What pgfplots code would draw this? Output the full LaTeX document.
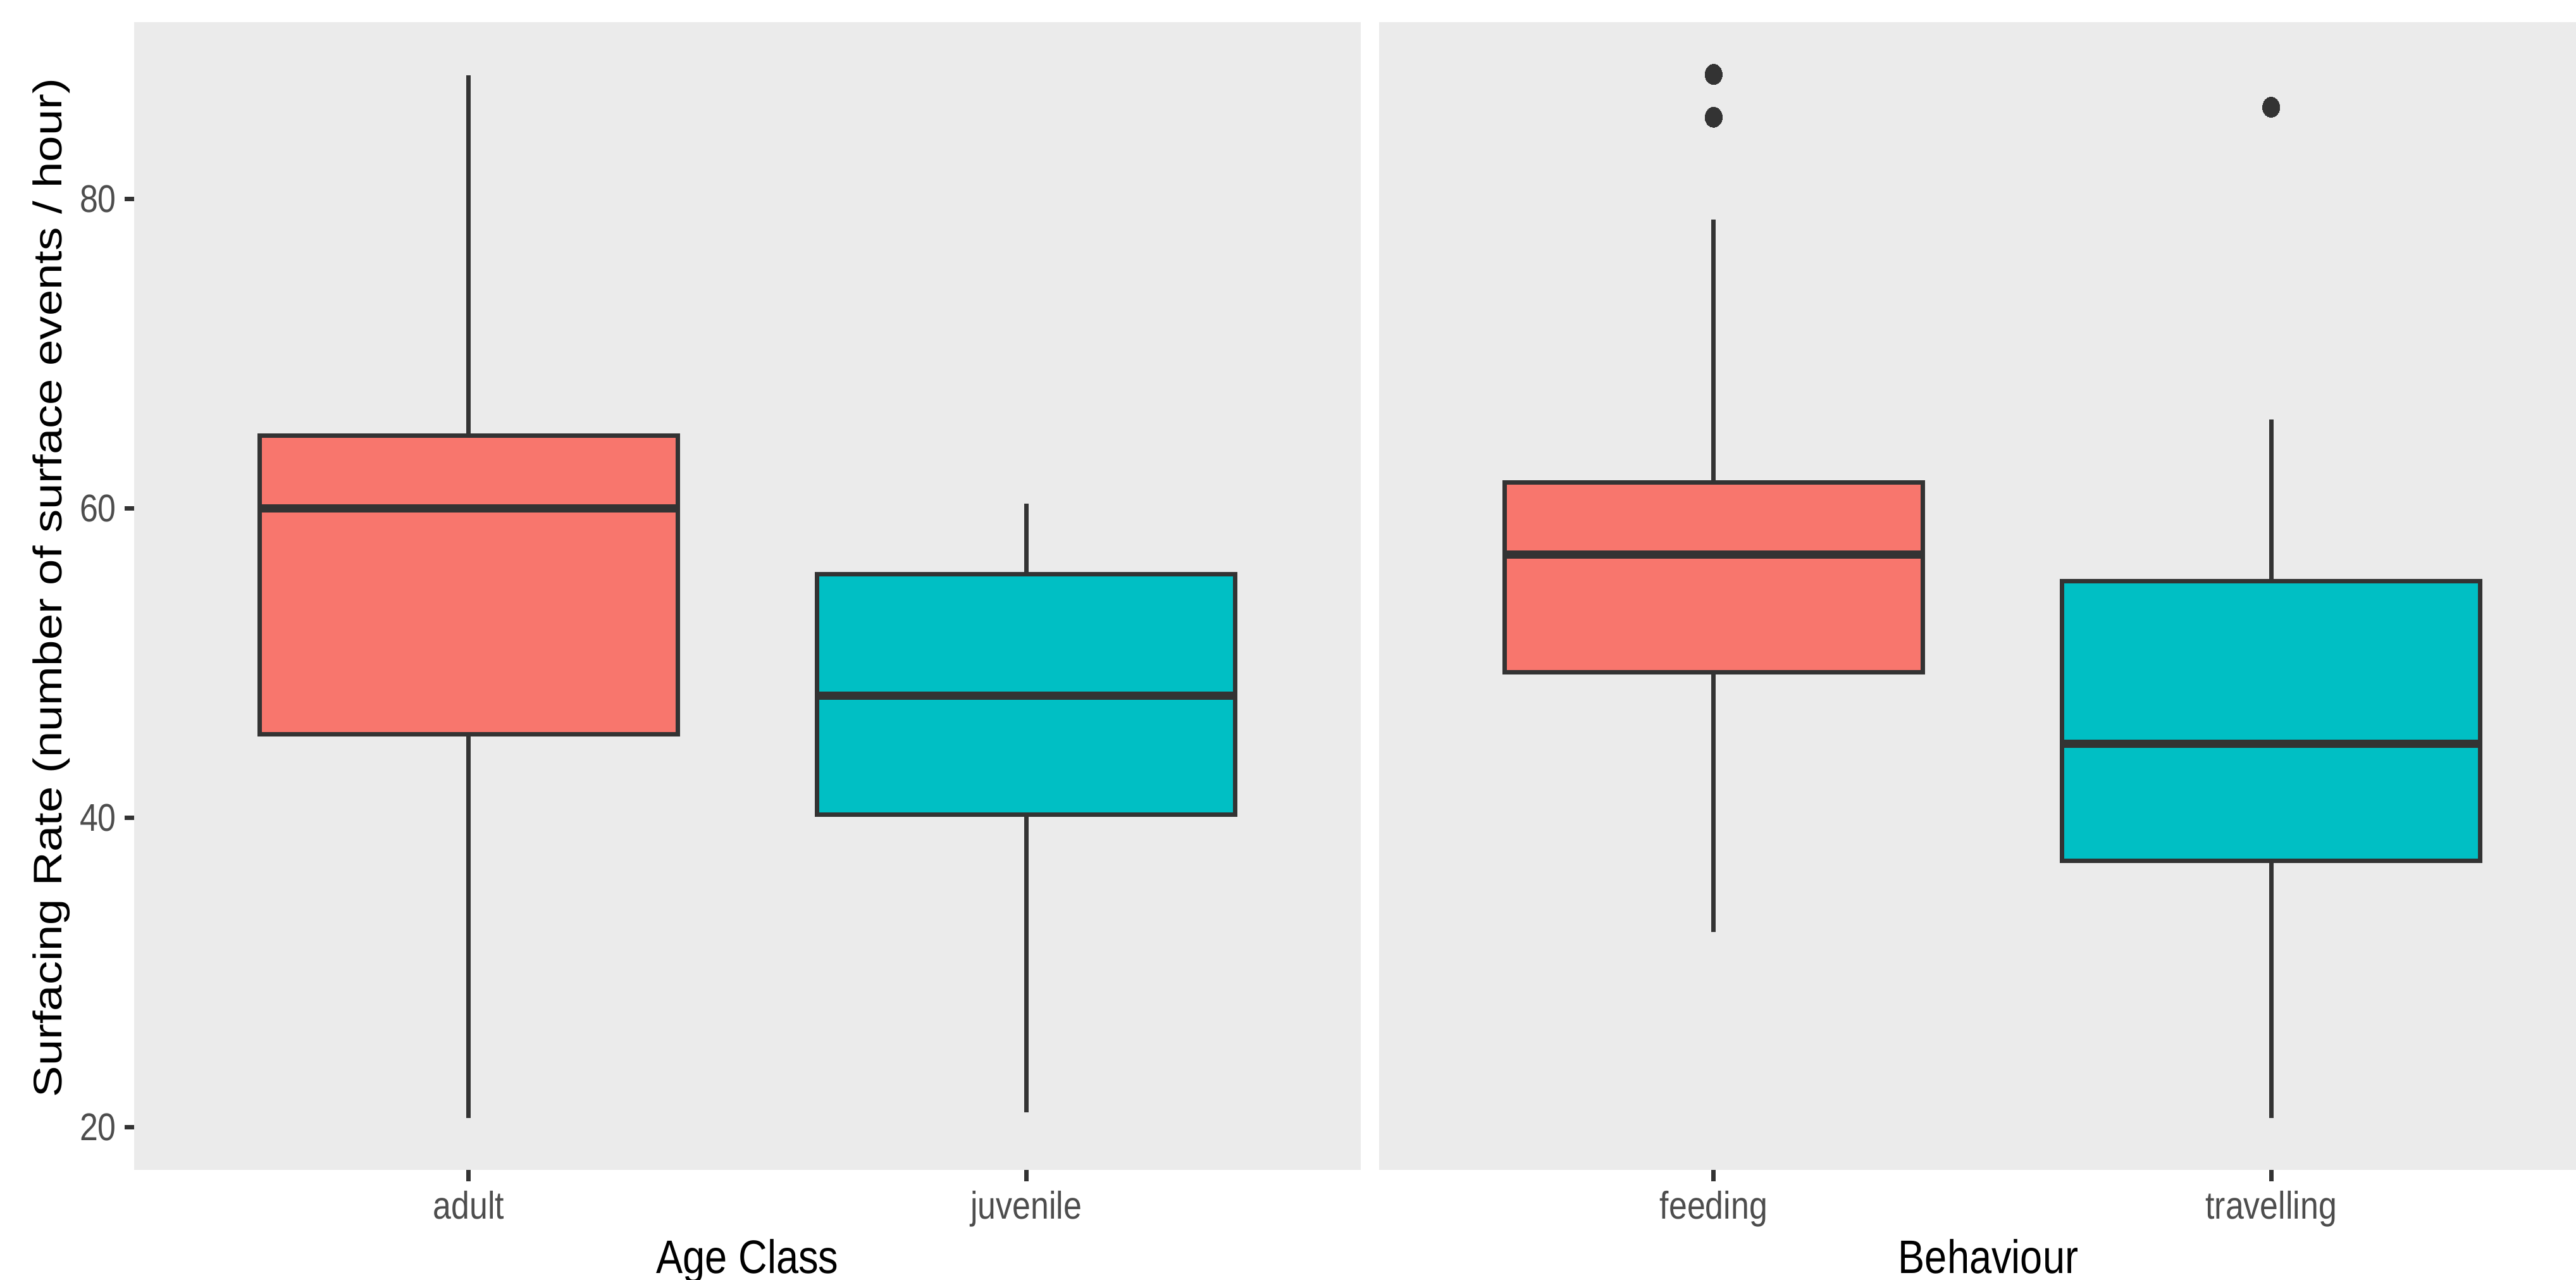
\documentclass[border=0pt]{standalone}
\usepackage{fontspec}
\setmainfont{Liberation Sans}[FakeStretch=0.85]
\newfontfamily\ylabfont{Liberation Sans}
\usepackage{graphicx}
\usepackage{pgfplots}
\pgfplotsset{compat=1.18}
\definecolor{grey20}{HTML}{333333}
\definecolor{grey30}{HTML}{4D4D4D}
\definecolor{panelbg}{HTML}{EBEBEB}
\definecolor{gred}{HTML}{F8766D}
\definecolor{gcyan}{HTML}{00BFC4}

\pgfplotsset{
  facet/.style={
    scale only axis,
    height=181.4pt,
    ymin=17.23, ymax=91.45,
    xmin=0.4,
    axis background/.style={fill=panelbg},
    axis line style={draw=none},
    xtick={1,2},
    tick pos=left,
    tick align=outside,
    major tick length=1.8pt,
    major tick style={grey20, line width=0.7pt},
    ytick style={/pgfplots/major tick length=1.5pt},
    ticklabel style={font=\fontsize{6.1}{7}\selectfont, text=grey30},
    /pgf/number format/assume math mode=true,
    xticklabel style={anchor=base, yshift=-6.0pt},
    every axis x label/.style={at={(axis description cs:0.5,-0.0899)}, anchor=base, font=\fontsize{7.43}{8}\selectfont, text=black},
  },
  boxpath/.style={fill=#1, draw=grey20, line width=0.7pt, mark=none},
  linepath/.style={draw=grey20, line width=0.7pt, mark=none},
  medpath/.style={draw=grey20, line width=1.3pt, mark=none},
  outl/.style={only marks, mark=*, mark size=1.6pt, mark options={fill=grey20, draw=grey20, line width=0pt, xscale=0.85}},
}

\begin{document}
\begin{tikzpicture}
\begin{axis}[facet,
  width=193.9pt,
  xmax=2.6,
  xticklabels={adult,juvenile},
  ytick={20,40,60,80},
  yticklabel style={anchor=east, xshift=2.5pt},
  xlabel={Age Class},
  ylabel={\scalebox{1}[0.85]{\ylabfont\fontsize{7.43}{8}\selectfont Surfacing Rate (number of surface events / hour)}},
  every axis y label/.style={at={(axis description cs:-0.0673,0.507)}, anchor=center, rotate=90, text=black},
]
% adult
\addplot[linepath] coordinates {(1,64.72) (1,88.0)};
\addplot[linepath] coordinates {(1,45.4) (1,20.6)};
\addplot[boxpath=gred] coordinates {(0.625,45.4) (1.375,45.4) (1.375,64.72) (0.625,64.72)} -- cycle;
\addplot[medpath] coordinates {(0.625,60.0) (1.375,60.0)};
% juvenile
\addplot[linepath] coordinates {(2,55.75) (2,60.3)};
\addplot[linepath] coordinates {(2,40.2) (2,20.95)};
\addplot[boxpath=gcyan] coordinates {(1.625,40.2) (2.375,40.2) (2.375,55.75) (1.625,55.75)} -- cycle;
\addplot[medpath] coordinates {(1.625,47.9) (2.375,47.9)};
\end{axis}
\begin{axis}[facet,
  at={(196.8pt,0pt)}, anchor=south west,
  width=189.2pt,
  xmax=2.5467,
  xticklabels={feeding,travelling},
  ytick=\empty,
  xlabel={Behaviour},
  every axis x label/.style={at={(axis description cs:0.509,-0.0899)}, anchor=base, font=\fontsize{7.43}{8}\selectfont, text=black},
]
% feeding
\addplot[linepath] coordinates {(1,61.7) (1,78.7)};
\addplot[linepath] coordinates {(1,49.4) (1,32.6)};
\addplot[boxpath=gred] coordinates {(0.625,49.4) (1.375,49.4) (1.375,61.7) (0.625,61.7)} -- cycle;
\addplot[medpath] coordinates {(0.625,57.0) (1.375,57.0)};
\addplot[outl] coordinates {(1,88.07) (1,85.3)};
% travelling
\addplot[linepath] coordinates {(2,55.3) (2,65.75)};
\addplot[linepath] coordinates {(2,37.2) (2,20.6)};
\addplot[boxpath=gcyan] coordinates {(1.625,37.2) (2.375,37.2) (2.375,55.3) (1.625,55.3)} -- cycle;
\addplot[medpath] coordinates {(1.625,44.8) (2.375,44.8)};
\addplot[outl] coordinates {(2,85.95)};
\end{axis}
\pgfresetboundingbox
\path[use as bounding box] (-21.2pt,-17.4pt) rectangle (386pt,184.9pt);
\end{tikzpicture}
\end{document}
